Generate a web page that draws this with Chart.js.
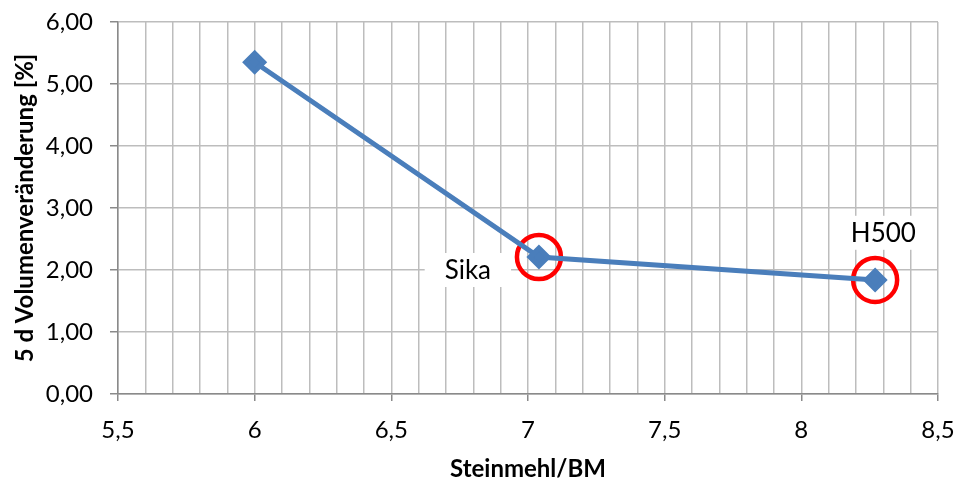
<!DOCTYPE html>
<html>
<head>
<meta charset="utf-8">
<script src="https://cdn.jsdelivr.net/npm/chart.js@4"></script>
<style>
  html, body { margin: 0; padding: 0; background: #fff; }
  #wrap { width: 957px; height: 481px; }
</style>
</head>
<body>
<div id="wrap"><canvas id="chart" width="957" height="481"></canvas></div>
<script>
const xValues = [6.0, 7.04, 8.27];
const yValues = [5.35, 2.21, 1.84];

// marked points (red rings)
const markX = [7.04, 8.27];
const markY = [2.21, 1.84];

// text labels and where they sit in data units
const noteText = ['Sika', 'H500'];
const noteX = [6.78, 8.30];
const noteY = [2.0, 2.6];

const FONT = 'Lato, "Open Sans", sans-serif';
const GRID = '#bdbdbd';
const AXIS = '#8a8a8a';

const isMajor = v => Math.round(v * 10) % 5 === 0;

const noteLabels = {
    id: 'noteLabels',
    afterDatasetsDraw(chart) {
        const { ctx, scales } = chart;
        ctx.save();
        ctx.font = '26px ' + FONT;
        ctx.textAlign = 'center';
        ctx.textBaseline = 'middle';
        noteText.forEach((t, i) => {
            const px = scales.x.getPixelForValue(noteX[i]);
            const py = scales.y.getPixelForValue(noteY[i]);
            const w = ctx.measureText(t).width + 40;
            ctx.fillStyle = '#fff';
            ctx.fillRect(px - w / 2, py - 17, w, 34);
            ctx.fillStyle = '#000';
            ctx.fillText(t, px, py + 1);
        });
        ctx.restore();
    }
};

const ctx = document.getElementById('chart').getContext('2d');
new Chart(ctx, {
    type: 'scatter',
    data: {
        datasets: [{
            data: xValues.map((x, i) => ({ x, y: yValues[i] })),
            showLine: true,
            borderColor: '#4a7ebb',
            backgroundColor: '#4a7ebb',
            borderWidth: 5,
            pointStyle: 'rectRot',
            pointRadius: 9,
            pointHoverRadius: 9,
            tension: 0
        }, {
            data: markX.map((x, i) => ({ x, y: markY[i] })),
            showLine: false,
            pointStyle: 'circle',
            pointRadius: 22,
            pointHoverRadius: 22,
            pointBorderWidth: 4.5,
            pointHoverBorderWidth: 4.5,
            borderColor: '#ff0000',
            backgroundColor: 'rgba(0,0,0,0)'
        }]
    },
    options: {
        responsive: false,
        animation: false,
        layout: { autoPadding: false, padding: { top: 22, right: 19, bottom: 0, left: 0 } },
        plugins: {
            legend: { display: false },
            tooltip: { enabled: false }
        },
        scales: {
            x: {
                type: 'linear',
                min: 5.5,
                max: 8.5,
                afterFit: s => {
                    s.height = 87;
                    s.paddingLeft = 0;
                    s.paddingRight = 0;
                },
                afterBuildTicks: s => {
                    const t = [];
                    for (let k = 55; k <= 85; k++) t.push({ value: k / 10 });
                    s.ticks = t;
                },
                ticks: {
                    autoSkip: false,
                    maxRotation: 0,
                    padding: 15,
                    color: '#000',
                    font: { family: FONT, size: 24 },
                    callback: v => isMajor(v) ? String(Math.round(v * 10) / 10).replace('.', ',') : ''
                },
                grid: {
                    color: GRID,
                    lineWidth: 1.5,
                    tickLength: 7,
                    tickColor: c => isMajor(c.tick.value) ? AXIS : 'rgba(0,0,0,0)'
                },
                border: { color: AXIS, width: 1.5 },
                title: {
                    display: true,
                    text: 'Steinmehl/BM',
                    color: '#000',
                    font: { family: FONT, size: 24, weight: 'bold', lineHeight: 1 },
                    padding: { top: 0, bottom: 0 }
                }
            },
            y: {
                min: 0,
                max: 6,
                afterFit: s => {
                    s.width = 118;
                    s.paddingTop = 0;
                    s.paddingBottom = 0;
                },
                ticks: {
                    stepSize: 1,
                    padding: 17,
                    color: '#000',
                    font: { family: FONT, size: 24 },
                    callback: v => v.toFixed(2).replace('.', ',')
                },
                grid: {
                    color: GRID,
                    lineWidth: 1.5,
                    tickLength: 8,
                    tickColor: AXIS
                },
                border: { color: AXIS, width: 1.5 },
                title: {
                    display: true,
                    text: '5 d Volumenveränderung [%]',
                    color: '#000',
                    font: { family: FONT, size: 24, weight: 'bold' },
                    padding: { top: 11, bottom: 0 }
                }
            }
        }
    },
    plugins: [noteLabels]
});
</script>
</body>
</html>
